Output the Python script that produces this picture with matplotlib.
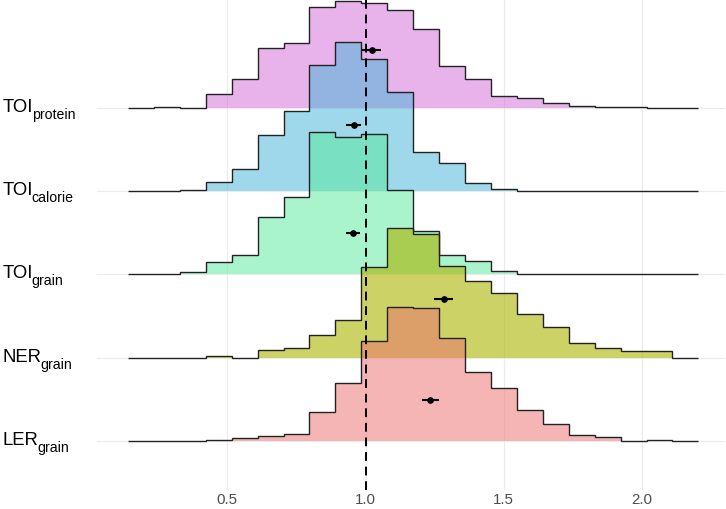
import matplotlib
matplotlib.use("Agg")
import matplotlib.pyplot as plt
import numpy as np
from matplotlib import transforms

plt.rcParams['font.family'] = ['Liberation Sans', 'DejaVu Sans']

# ---------------- data ----------------
groups_main = ["LER", "NER", "TOI", "TOI", "TOI"]          # bottom -> top
groups_sub = ["grain", "grain", "grain", "calorie", "protein"]
colors = ["#ED6D6D", "#AAB400", "#55EB9B", "#41B3D9", "#D169D7"]
alphas = [0.5, 0.6, 0.5, 0.5, 0.5]

bin_start = 0.141
bin_width = 0.09376
n_bins = 22

# bin heights (relative counts), bottom -> top
h_LER = [0, 0, 0, 0.7, 2.7, 4.7, 6.4, 29, 57.4, 99.7, 134, 133, 102.3, 69, 53, 30.7, 16.7, 5.4, 4, 0, 0.7, 0]
h_NER = [0, 0, 0, 1.7, 0, 7.3, 9.7, 23, 37.7, 91, 129.3, 123.3, 92, 77, 65, 44, 30.3, 15, 10, 6.3, 6.3, 0]
h_TOIgrain = [0, 0, 2.7, 12.3, 19, 57.7, 77.3, 142.3, 137.3, 140.7, 84.7, 43.3, 19.7, 13, 3.7, 0, 0, 0, 0, 0, 0, 0]
h_TOIcal = [0, 0, 1.7, 9.7, 22.4, 56.4, 80.7, 126.4, 149, 132.4, 99.7, 39, 28, 8.7, 2.4, 0, 0, 0, 0, 0, 0, 0]
h_TOIprot = [0, 1.7, 0.7, 14, 29, 60.6, 65.6, 101, 107.6, 105.6, 98.3, 79.6, 42.3, 29, 12, 10, 5, 2, 1, 1, 0, 0]
heights = [h_LER, h_NER, h_TOIgrain, h_TOIcal, h_TOIprot]

# point estimates with intervals, bottom -> top
est = [1.233, 1.284, 0.956, 0.9595, 1.0224]
est_lo = [1.203, 1.248, 0.928, 0.930, 0.986]
est_hi = [1.265, 1.318, 0.980, 0.982, 1.055]
est_y = [0.49, 0.71, 0.50, 0.80, 0.70]   # height above ridge baseline (row units)

ref_x = 1.0
xticks = [0.5, 1.0, 1.5, 2.0]
xticklabels = ["0.5", "1.0", "1.5", "2.0"]

ridge_scale = 1.793

# ---------------- figure ----------------
W, H = 726, 509
fig = plt.figure(figsize=(W / 100, H / 100), dpi=100)
ax = fig.add_axes([97.3 / W, (H - 490) / H, (725 - 97.3) / W, 490 / H])
ax.set_xlim(0.03, 2.3)
ax.set_ylim(0.4067, 6.303)

edges = bin_start + bin_width * np.arange(n_bins + 1)
hmax = max(max(h) for h in heights)
n = len(heights)
rows = np.arange(1, n + 1)

# grid
for xt in xticks:
    ax.axvline(xt, color="#EBEBEB", lw=0.8, zorder=0)
for r in rows:
    ax.axhline(r, color="#EBEBEB", lw=0.8, zorder=0)

# ridges: top first so lower ones draw over
for i in range(n - 1, -1, -1):
    r = rows[i]
    vals = r + np.array(heights[i]) / hmax * ridge_scale
    z = 2 + (n - 1 - i) * 2
    ax.stairs(vals, edges, baseline=r, fill=True, color=colors[i], alpha=alphas[i],
              lw=0, zorder=z)
    ax.stairs(vals, edges, baseline=r, fill=False, color="#222222", lw=1.0,
              zorder=z + 1)

# point ranges
for i in range(n):
    y = rows[i] + est_y[i]
    ax.plot([est_lo[i], est_hi[i]], [y, y], color="black", lw=1.5,
            solid_capstyle="butt", zorder=30)
    ax.plot(est[i], y, "o", color="black", ms=3.8, zorder=31)

# reference line
ax.axvline(ref_x, color="black", lw=1.4, ls=(0, (4.5, 3)), zorder=40)

# axes styling
for s in ax.spines.values():
    s.set_visible(False)
ax.set_xticks(xticks)
ax.set_xticklabels(xticklabels)
ax.set_yticks([])
ax.tick_params(axis="x", length=0, pad=2.0, labelsize=10.8, labelcolor="#4D4D4D")

# y labels with subscripts
fig.canvas.draw()
renderer = fig.canvas.get_renderer()
blend = transforms.blended_transform_factory(fig.transFigure, ax.transData)
for i in range(n):
    tr_main = transforms.offset_copy(blend, fig=fig, x=0, y=-4, units="dots")
    t = ax.text(2.7 / W, rows[i], groups_main[i], transform=tr_main,
                fontsize=13.3, color="black", ha="left", va="baseline",
                clip_on=False)
    bb = t.get_window_extent(renderer)
    x1 = bb.x1 / W
    tr_sub = transforms.offset_copy(blend, fig=fig, x=-1.5, y=-11, units="dots")
    ax.text(x1, rows[i], groups_sub[i], transform=tr_sub, fontsize=10.2,
            color="black", ha="left", va="baseline", clip_on=False)

fig.savefig("out.png", dpi=100)
